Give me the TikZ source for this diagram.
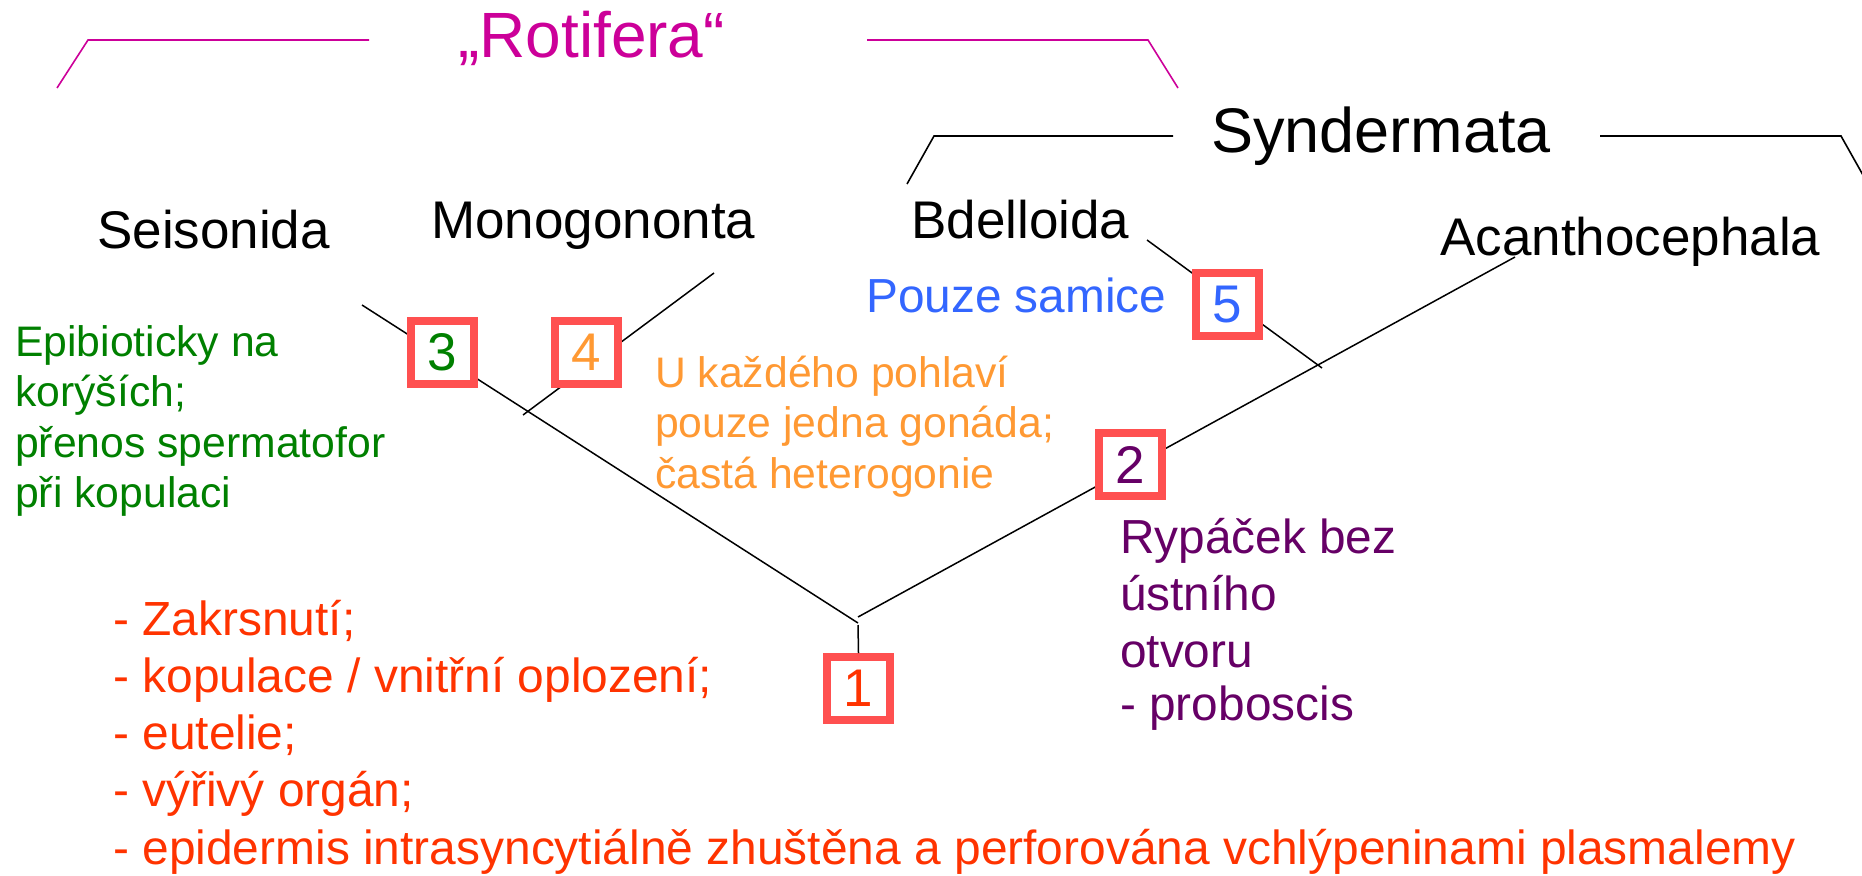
\documentclass[tikz,border=0pt]{standalone}
\usepackage{fontspec}
\setmainfont{Liberation Sans}
\definecolor{rotmag}{RGB}{204,0,153}
\definecolor{grn}{RGB}{0,128,0}
\definecolor{org}{RGB}{255,153,51}
\definecolor{blu}{RGB}{51,102,255}
\definecolor{pur}{RGB}{102,0,102}
\definecolor{redo}{RGB}{255,51,0}
\definecolor{boxred}{RGB}{255,80,80}
\tikzset{
  txt/.style={inner sep=0pt, anchor=base west},
  taxon/.style={txt, font=\fontsize{53}{64}\selectfont},
  big/.style={txt, font=\fontsize{64}{76}\selectfont},
  note/.style={txt, font=\fontsize{42.7}{50}\selectfont},
  note46/.style={txt, font=\fontsize{47.8}{56}\selectfont},
  list/.style={txt, font=\fontsize{47.9}{57}\selectfont, text=redo},
  numbox/.style={draw=boxred, line width=8pt, fill=white, minimum size=63pt, inner sep=0pt, font=\fontsize{53}{64}\selectfont},
  branch/.style={draw=black, line width=1.5pt},
  brack/.style={line width=1.6pt}
}
\begin{document}
\begin{tikzpicture}[x=1pt,y=-1pt]
\useasboundingbox (0,0) rectangle (1862,875);
\clip (0,0) rectangle (1862,875);
% brackets
\node[big, text=rotmag] (rot) at (458,57) {„Rotifera“};
\coordinate (rl1) at (57,88); \coordinate (rl2) at (88,40); \coordinate (rl3) at (369,40);
\coordinate (rr1) at (867,40); \coordinate (rr2) at (1148,40); \coordinate (rr3) at (1178,88);
\draw[brack, rotmag] (rl1) -- (rl2) -- (rl3);
\draw[brack, rotmag] (rr1) -- (rr2) -- (rr3);
\node[big, font=\fontsize{63}{76}\selectfont] (syn) at (1211,152) {Syndermata};
\coordinate (sl1) at (907,184); \coordinate (sl2) at (934,136); \coordinate (sl3) at (1173,136);
\coordinate (sr1) at (1600,136); \coordinate (sr2) at (1841,136); \coordinate (sr3) at (1868,184);
\draw[brack] (sl1) -- (sl2) -- (sl3);
\draw[brack] (sr1) -- (sr2) -- (sr3);
% taxa
\node[taxon] (sei) at (97,248) {Seisonida};
\node[taxon] (mono) at (431,238) {Monogononta};
\node[taxon] (bdel) at (911,238) {Bdelloida};
\node[taxon] (acan) at (1440,255) {Acanthocephala};
% tree coordinates
\coordinate (seiEnd) at (362,305);
\coordinate (jl) at (858,623);
\coordinate (acEnd) at (1515,257);
\coordinate (jr) at (858,617);
\coordinate (monoEnd) at (714,273);
\coordinate (monoJ) at (523,415);
\coordinate (bdEnd) at (1147,240);
\coordinate (bdJ) at (1322,368);
\coordinate (stemTop) at (858,625);
\draw[branch] (seiEnd) -- (jl);
\draw[branch] (acEnd) -- (jr);
\draw[branch] (monoEnd) -- (monoJ);
\draw[branch] (bdEnd) -- (bdJ);
% boxes
\node[numbox, text=redo] (b1) at (858.5,688.5) {1};
\node[numbox, text=pur] (b2) at (1130.5,464.5) {2};
\node[numbox, text=grn] (b3) at (442.5,352.5) {3};
\node[numbox, text=org] (b4) at (586.5,352.5) {4};
\node[numbox, text=blu] (b5) at (1227,304.5) {5};
\draw[branch] (stemTop) -- (b1.north);
% notes
\node[note, text=grn] (e1) at (15,356) {Epibioticky na};
\node[note, text=grn] (e2) at (15,406.5) {korýších;};
\node[note, text=grn] (e3) at (15,457) {přenos spermatofor};
\node[note, text=grn] (e4) at (15,507.5) {při kopulaci};
\node[note, text=org] (u1) at (655,387) {U každého pohlaví};
\node[note, text=org] (u2) at (655,437.5) {pouze jedna gonáda;};
\node[note, text=org] (u3) at (655,488) {častá heterogonie};
\node[note46, text=blu] (ps) at (866,312) {Pouze samice};
\node[note46, text=pur] (r1) at (1120,553) {Rypáček bez};
\node[note46, text=pur] (r2) at (1120,610) {ústního};
\node[note46, text=pur] (r3) at (1120,667) {otvoru};
\node[note46, text=pur] (r4) at (1120,720) {- proboscis};
\node[list] (l1) at (113,635) {- Zakrsnutí;};
\node[list] (l2) at (113,692) {- kopulace / vnitřní oplození;};
\node[list] (l3) at (113,749) {- eutelie;};
\node[list] (l4) at (113,806.5) {- výřivý orgán;};
\node[list] (l5) at (113,864) {- epidermis intrasyncytiálně zhuštěna a perforována vchlýpeninami plasmalemy};
\end{tikzpicture}
\end{document}
